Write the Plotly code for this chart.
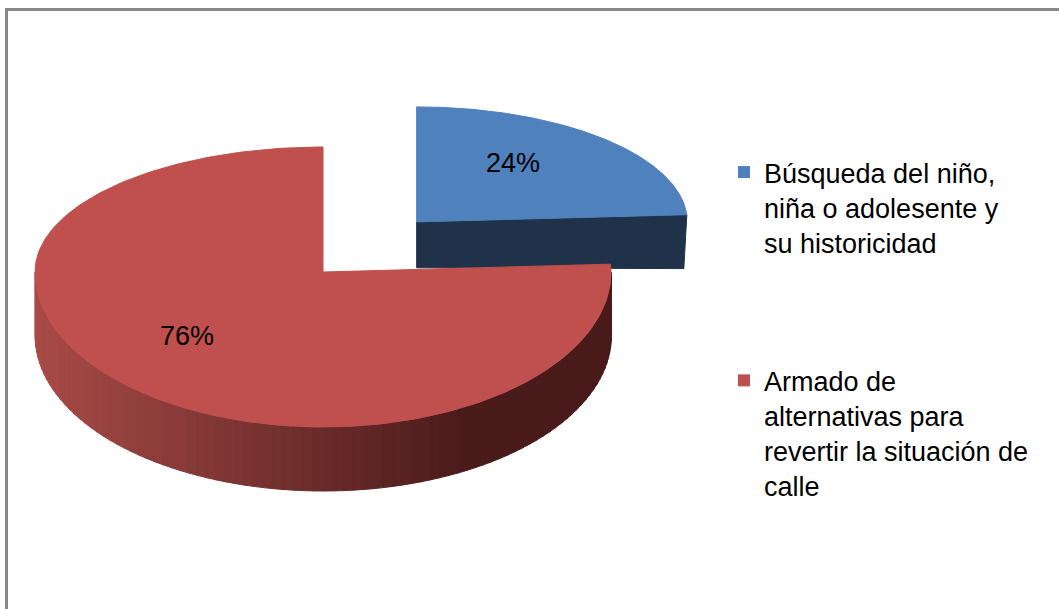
import math
import plotly.graph_objects as go

# ---- data ----
categories = ["Búsqueda del niño,<br>niña o adolesente y<br>su historicidad",
              "Armado de<br>alternativas para<br>revertir la situación de<br>calle"]
values = [24, 76]
top_colors = ["#4f81bd", "#c0504d"]

FONT = "Liberation Sans, Arial, sans-serif"
W, H = 1059, 609

# ---- pseudo-3D pie geometry (pixel space) ----
CX, CY = 323, 272
RX, RY_BACK, RY_FRONT = 288, 125, 155
DEPTH = 64
EXPLODE_X = [0.475, 0.0]      # blue slice pulled out
EXPLODE_Y = [0.55, 0.0]
SCALE_X = [0.94, 1.0]         # far slice appears smaller (perspective)
SCALE_Y = [0.92, 1.0]
DEPTH_S = [0.78, 1.0]
LABEL_FX = [0.52, 0.69]
LABEL_FY = [0.68, 0.59]

total = sum(values)
start = 90.0
slices = []
for i, v in enumerate(values):
    span = v / total * 360.0
    a1 = start
    a0 = start - span
    slices.append((a0, a1))
    start = a0


def pt(cx, cy, sx, sy, ang):
    t = math.radians(ang)
    sn = math.sin(t)
    ry = RY_BACK if sn > 0 else RY_FRONT
    return cx + sx * RX * math.cos(t), cy - sy * ry * sn


fig = go.Figure()


def poly(xs, ys, color):
    fig.add_trace(go.Scatter(x=xs + [xs[0]], y=ys + [ys[0]], mode="lines", fill="toself",
                             fillcolor=color, line=dict(color=color, width=1),
                             hoverinfo="skip", showlegend=False))


def lerp_col(c1, c2, t):
    a = [int(c1[k:k + 2], 16) for k in (1, 3, 5)]
    b = [int(c2[k:k + 2], 16) for k in (1, 3, 5)]
    return "#%02x%02x%02x" % tuple(int(round(a[j] + (b[j] - a[j]) * t)) for j in range(3))


centers = []
for i, (a0, a1) in enumerate(slices):
    mid = (a0 + a1) / 2
    mx, my = pt(0, 0, EXPLODE_X[i], EXPLODE_Y[i], mid)
    centers.append((CX + mx, CY + my))

for i in [0, 1]:
    a0, a1 = slices[i]
    cx, cy = centers[i]
    sx, sy = SCALE_X[i], SCALE_Y[i]
    d = DEPTH * DEPTH_S[i]
    if i == 0:
        # visible radial cut face along the lower edge of the pulled slice
        px, py = pt(cx, cy, sx, sy, a0)
        poly([cx, px, px - 3, cx], [cy, py, py + d + 4, cy + d - 4], "#1f3249")
        lo_a, hi_a = a0, a1
    else:
        # front curved wall with horizontal shading
        n = 90
        for k in range(n):
            t0 = 180 + 180 * k / n
            t1 = 180 + 180 * (k + 1) / n
            x0, y0 = pt(cx, cy, sx, sy, t0)
            x1, y1 = pt(cx, cy, sx, sy, t1)
            tt = ((x0 + x1) / 2 - (cx - RX)) / (2 * RX)
            col = lerp_col("#a84b47", "#4a1b1b", min(1.0, tt / 0.75))
            poly([x0, x1 + 0.5, x1 + 0.5, x0], [y0, y1, y1 + d, y0 + d], col)
        lo_a, hi_a = a0 + 360, a1 + 360
    # top face
    xs, ys = [cx], [cy]
    m = 240
    for k in range(m + 1):
        ang = lo_a + (hi_a - lo_a) * k / m
        x, y = pt(cx, cy, sx, sy, ang)
        xs.append(x)
        ys.append(y)
    poly(xs, ys, top_colors[i])

# percentage labels
for i, (a0, a1) in enumerate(slices):
    cx, cy = centers[i]
    lx, ly = pt(cx, cy, SCALE_X[i] * LABEL_FX[i], SCALE_Y[i] * LABEL_FY[i], (a0 + a1) / 2)
    fig.add_trace(go.Scatter(x=[lx], y=[ly], mode="text",
                             text=["%d%%" % round(values[i] / total * 100)],
                             textfont=dict(family=FONT, size=27, color="#000000"),
                             hoverinfo="skip", showlegend=False))

# legend entries
for i, c in enumerate(categories):
    fig.add_trace(go.Scatter(x=[None], y=[None], mode="markers", name=c,
                             legendgroup="g%d" % i,
                             marker=dict(symbol="square", size=12, color=top_colors[i])))

fig.update_layout(
    width=W, height=H,
    margin=dict(l=0, r=0, t=0, b=0),
    paper_bgcolor="white", plot_bgcolor="white",
    xaxis=dict(range=[0, W], visible=False, fixedrange=True),
    yaxis=dict(range=[H, 0], visible=False, fixedrange=True),
    hovermode=False,
    legend=dict(x=724 / W, y=1 - 148 / H, xanchor="left", yanchor="top",
                font=dict(family=FONT, size=27, color="#000000"),
                valign="top", tracegroupgap=100, bgcolor="rgba(0,0,0,0)"),
    shapes=[dict(type="rect", xref="paper", yref="paper",
                 x0=6.5 / W, y0=1 - 9.5 / H, x1=1.05, y1=-0.05,
                 line=dict(color="#888888", width=3), layer="above")],
)

fig.write_html("out.html", config={"displayModeBar": False},
               post_script="document.body.style.margin='0';")
